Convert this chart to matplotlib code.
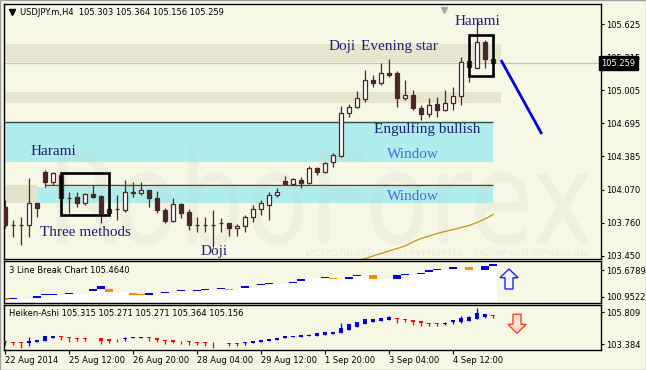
import matplotlib
matplotlib.use('Agg')
import matplotlib.pyplot as plt
from matplotlib.patches import Rectangle, Polygon, PathPatch
from matplotlib.textpath import TextPath
from matplotlib.font_manager import FontProperties
from matplotlib.transforms import Affine2D, blended_transform_factory
import numpy as np

nan = np.nan

# --- USDJPY H4 candles (bar 0 = 22 Aug 2014) ---
opens = [103.907, 103.740, 103.738, 103.738, 103.945, 104.236, 104.142, 104.208, 103.992, 104.001,
         103.945, 104.030, 104.011, 103.851, 103.889, 103.879, 104.048, 104.039, 104.067, 103.992,
         103.879, 103.776, 103.936, 103.860, 103.738, 103.738, 103.738, 103.757, 103.757, 103.710,
         103.729, 103.814, 103.889, 103.926, 104.020, 104.152, 104.124, 104.161, 104.133, 104.274,
         104.236, 104.330, 104.387, 104.791, 104.847, 104.923, 105.101, 105.073, 105.167, 105.167,
         104.932, 104.960, 104.838, 104.782, 104.876, 104.819, 104.885, 104.951, 105.280, 105.214,
         105.459, 105.303]
highs = [103.973, 103.785, 103.814, 104.180, 103.950, 104.255, 104.236, 104.227, 104.048, 104.048,
         104.039, 104.114, 104.020, 103.895, 104.020, 104.161, 104.142, 104.142, 104.070, 104.057,
         103.898, 103.992, 103.945, 103.889, 103.814, 103.814, 103.879, 103.804, 103.760, 103.748,
         103.832, 103.926, 103.973, 104.048, 104.086, 104.199, 104.180, 104.190, 104.293, 104.280,
         104.330, 104.415, 104.857, 104.876, 104.998, 105.195, 105.148, 105.261, 105.299, 105.186,
         105.101, 105.007, 104.866, 104.932, 104.942, 105.007, 105.036, 105.318, 105.308, 105.684,
         105.477, 105.320]
lows = [103.710, 103.626, 103.551, 103.626, 103.814, 104.095, 104.114, 103.983, 103.851, 103.907,
        103.926, 103.995, 103.757, 103.845, 103.785, 103.860, 104.001, 104.020, 103.907, 103.851,
        103.757, 103.767, 103.804, 103.691, 103.673, 103.673, 103.532, 103.673, 103.635, 103.635,
        103.673, 103.767, 103.832, 103.785, 104.001, 104.120, 104.114, 104.086, 104.128, 104.208,
        104.230, 104.283, 104.377, 104.753, 104.838, 104.895, 105.036, 105.054, 105.130, 104.847,
        104.913, 104.819, 104.725, 104.753, 104.753, 104.810, 104.819, 104.866, 105.083, 105.210,
        105.214, 105.235]
closes = [103.738, 103.738, 103.740, 103.945, 103.898, 104.142, 104.227, 103.992, 103.995, 103.945,
          104.030, 104.001, 103.851, 103.889, 103.885, 104.048, 104.043, 104.067, 103.992, 103.879,
          103.776, 103.936, 103.851, 103.738, 103.735, 103.742, 103.736, 103.755, 103.710, 103.729,
          103.814, 103.889, 103.945, 104.020, 104.048, 104.124, 104.171, 104.133, 104.274, 104.236,
          104.321, 104.396, 104.791, 104.847, 104.932, 105.101, 105.073, 105.167, 105.148, 104.932,
          104.960, 104.838, 104.782, 104.866, 104.819, 104.885, 104.951, 105.271, 105.224, 105.459,
          105.299, 105.259]

# moving average (only the visible part, bars 44..61)
ma_bars = list(range(44, 62))
ma_vals = [103.400, 103.424, 103.447, 103.471, 103.494, 103.518, 103.541, 103.579, 103.612, 103.635,
           103.659, 103.678, 103.696, 103.715, 103.734, 103.762, 103.795, 103.837]

# support / resistance zones (price levels)
tan_zones = [(105.274, 105.440), (104.888, 104.989)]
window_zones = [(104.334, 104.704), (103.948, 104.098)]
level_lines = [104.704, 104.110]
last_price = 105.259

# 3 line break bricks
lb_bar = [0, 1, 4, 5, 6, 8, 11, 12, 13, 16, 17, 18, 20, 22, 24, 25, 27, 28, 30, 32, 33, 36, 37, 38,
          40, 41, 43, 44, 46, 49, 50, 52, 53, 54, 56, 58, 60, 61]
lb_lo = [100.369, 100.599, 100.776, 101.201, 101.307, 101.484, 101.909, 102.369, 101.785, 101.307,
         101.201, 101.307, 101.661, 101.909, 102.015, 102.192, 102.369, 102.086, 102.546, 102.971,
         103.148, 103.431, 103.679, 104.210, 104.263, 104.086, 104.086, 104.564, 104.139, 104.139,
         104.847, 105.024, 105.272, 105.732, 105.909, 105.732, 105.732, 106.440]
lb_hi = [100.725, 100.776, 101.077, 101.378, 101.484, 101.661, 102.369, 102.847, 102.369, 101.608,
         101.378, 101.608, 101.785, 102.086, 102.139, 102.369, 102.546, 102.369, 102.847, 103.148,
         103.325, 103.608, 104.086, 104.316, 104.440, 104.263, 104.440, 104.741, 104.741, 104.741,
         104.971, 105.201, 105.732, 105.856, 106.157, 106.157, 106.387, 106.688]
lb_up = [0, 1, 1, 1, 1, 1, 1, 1, 0, 0, 0, 1, 1, 1, 1, 1, 1, 0, 1, 1, 1, 1, 1, 1, 1, 0, 1, 1, 0, 1,
         1, 1, 1, 1, 1, 0, 1, 1]

# Heiken-Ashi
ha_o = [103.634, 103.535, 103.535, 103.510, 103.580, 103.634, 103.880, 104.000, 103.960, 103.840,
        103.840, 103.830, 103.840, 103.790, 103.720, 103.820, 103.840, 103.880, 103.900, 103.840,
        103.710, 103.710, 103.640, 103.634, 103.535, 103.535, 103.500, nan, 103.460, 103.460,
        103.500, 103.510, 103.580, 103.634, 103.710, 103.840, 103.940, 103.960, 104.040, 104.040,
        104.090, 104.160, 104.220, 104.470, 104.720, 104.900, 105.100, 105.150, 105.220, 105.400,
        105.300, 105.200, 105.150, 105.020, 105.020, 104.950, 105.050, 105.100, 105.150, 105.300,
        105.480, 105.600]
ha_c = [103.535, 103.460, 103.460, 103.634, 103.710, 104.040, 104.040, 103.970, 103.840, 103.790,
        103.790, 103.840, 103.630, 103.630, 103.700, 103.850, 103.960, 103.960, 103.870, 103.710,
        103.630, 103.580, 103.610, 103.535, 103.460, 103.460, 103.480, nan, 103.440, 103.384,
        103.530, 103.634, 103.710, 103.790, 103.880, 104.040, 104.040, 104.090, 104.120, 104.220,
        104.290, 104.290, 104.640, 104.920, 105.100, 105.300, 105.300, 105.400, 105.480, 105.300,
        105.200, 105.050, 104.970, 104.920, 104.920, 104.970, 105.220, 105.400, 105.480, 105.730,
        105.660, 105.500]
ha_h = [103.634, 103.540, 103.540, 103.960, 103.720, 104.050, 104.050, 104.040, 103.970, 103.850,
        103.850, 103.850, 103.850, 103.800, 103.790, 103.960, 103.970, 103.970, 103.910, 103.850,
        103.720, 103.720, 103.640, 103.640, 103.540, 103.540, 103.540, nan, 103.460, 103.460,
        103.535, 103.640, 103.720, 103.800, 103.890, 104.050, 104.050, 104.100, 104.160, 104.230,
        104.300, 104.300, 104.970, 104.930, 105.110, 105.310, 105.310, 105.410, 105.490, 105.410,
        105.310, 105.210, 105.160, 105.030, 105.030, 105.100, 105.230, 105.550, 105.490, 106.110,
        105.670, 105.610]
ha_l = [103.331, 103.330, 103.080, 103.280, 103.570, 103.620, 103.870, 103.710, 103.580, 103.630,
        103.630, 103.830, 103.380, 103.460, 103.540, 103.630, 103.830, 103.870, 103.630, 103.540,
        103.380, 103.460, 103.380, 103.330, 103.330, 103.280, 103.080, nan, 103.280, 103.280,
        103.330, 103.500, 103.570, 103.620, 103.700, 103.830, 103.930, 103.950, 104.030, 104.030,
        104.080, 104.150, 104.210, 104.460, 104.710, 104.890, 105.090, 105.140, 105.210, 104.970,
        105.050, 104.850, 104.790, 104.790, 104.790, 104.850, 104.900, 104.970, 105.140, 105.290,
        105.350, 105.350]

main_ticks = [105.625, 105.315, 105.005, 104.695, 104.385, 104.070, 103.760, 103.450]
lb_ticks = [105.6789, 100.9522]
ha_ticks = [105.809, 103.384]
date_pos = [0, 8, 16, 24, 32, 40, 48, 56]
date_labels = ['22 Aug 2014', '25 Aug 12:00', '26 Aug 20:00', '28 Aug 04:00',
               '29 Aug 12:00', '1 Sep 20:00', '3 Sep 04:00', '4 Sep 12:00']

BG = '#f7f7e6'
TAN = '#e8e5cf'
CYAN = '#b0eeee'
DARKLINE = '#2f4f4f'
CANDLE = '#4d2626'
NAVY = '#1e1e7a'
WINDOW = '#4a68e6'
TICKFONT = dict(family='DejaVu Sans', size=6.0)

W, H = 646, 370
fig = plt.figure(figsize=(6.46, 3.70), dpi=100)
fig.patch.set_facecolor(BG)


def px_axes(left, top, right, bottom):
    a = fig.add_axes([left / W, 1 - bottom / H, (right - left) / W, (bottom - top) / H])
    a.set_facecolor(BG)
    a.set_xlim(-0.125, 74.5)
    a.yaxis.tick_right()
    a.tick_params(axis='y', direction='out', length=2.5, width=0.8, pad=1.0)
    a.set_xticks([])
    for sp in a.spines.values():
        sp.set_linewidth(1.0)
    return a


def fit_text(a, s, box, color, alpha, family='DejaVu Sans'):
    # stretch a text path into a box given in axes fraction (x0, y0, x1, y1)
    x0, y0, x1, y1 = box
    tp = TextPath((0, 0), s, size=1, prop=FontProperties(family=family))
    ext = tp.get_extents()
    tr = (Affine2D().translate(-ext.x0, -ext.y0)
          .scale((x1 - x0) / ext.width, (y1 - y0) / ext.height)
          .translate(x0, y0) + a.transAxes)
    a.add_patch(PathPatch(tp, transform=tr, fc=color, ec='none', alpha=alpha, zorder=1.5))


ax = px_axes(4, 4, 601, 259)
ax2 = px_axes(4, 261, 601, 302.7)
ax3 = px_axes(4, 304.5, 601, 349.5)

# ---------------- main price panel ----------------
ax.set_ylim(103.419, 105.816)
xl = ax.get_xlim()[0]
for lo, hi in tan_zones:
    ax.add_patch(Rectangle((xl, lo), 62.0 - xl, hi - lo, fc=TAN, ec='none', zorder=0.5))
ax.add_patch(Rectangle((xl, window_zones[0][0]), 61.0 - xl, window_zones[0][1] - window_zones[0][0],
                       fc=CYAN, ec='none', zorder=0.6))
ax.add_patch(Rectangle((4.0, window_zones[1][0]), 57.0, window_zones[1][1] - window_zones[1][0],
                       fc=CYAN, ec='none', zorder=0.6))
ax.add_patch(Rectangle((xl, window_zones[1][0]), 4.0 - xl, level_lines[1] - window_zones[1][0],
                       fc='#e4e2c8', ec='none', zorder=0.6))
ax.hlines(level_lines[0], xl, 61.0, color=DARKLINE, lw=1.0, zorder=1.6)
ax.hlines(level_lines[1], 5.0, 61.0, color=DARKLINE, lw=1.0, zorder=1.6)
ax.axhline(last_price, color='#c0c0c0', lw=0.9, zorder=1.7)

# watermark
fit_text(ax, 'RoboForex', (0.089, 0.055, 0.982, 0.44), '#c0c0b0', 0.13)
fit_text(ax, 'ИСПОЛЬЗУЙ ИНСТРУМЕНТЫ – ПОЛУЧАЙ ПРИБЫЛЬ', (0.507, 0.012, 0.976, 0.043), '#c0c0b0', 0.22)

x = np.arange(len(opens))
o = np.array(opens); c = np.array(closes)
up = c >= o
ax.vlines(x, lows, highs, color=CANDLE, lw=0.9, zorder=3)
ax.bar(x, np.abs(c - o), bottom=np.minimum(o, c), width=0.5,
       color=np.where(up, 'white', CANDLE), edgecolor=CANDLE, linewidth=0.9, zorder=4)

ax.plot(ma_bars, ma_vals, color='#c8901e', lw=0.9, zorder=2)

# pattern boxes
ax.add_patch(Rectangle((6.94, 103.832), 6.0, 104.227 - 103.832, fill=False, ec='black', lw=1.9, zorder=5))
ax.add_patch(Rectangle((58.0, 105.139), 3.0, 105.524 - 105.139, fill=False, ec='black', lw=1.9, zorder=5))

# forecast arrow
ax.plot([62.0, 67.1], [105.289, 104.594], color='#0000dd', lw=2.0, zorder=5, solid_capstyle='butt')

serif = dict(family='Liberation Serif', size=11, zorder=6, va='baseline', ha='left')
ax.text(40.4, 105.379, 'Doji', color=NAVY, **serif)
ax.text(44.5, 105.379, 'Evening star', color=NAVY, **serif)
ax.text(56.25, 105.618, 'Harami', color=NAVY, **serif)
ax.text(46.1, 104.599, 'Engulfing bullish', color=NAVY, **serif)
ax.text(47.75, 104.368, 'Window', color=WINDOW, **serif)
ax.text(47.75, 103.969, 'Window', color=WINDOW, **serif)
ax.text(3.25, 104.397, 'Harami', color=NAVY, **serif)
ax.text(4.4, 103.631, 'Three methods', color=NAVY, **serif)
ax.text(24.4, 103.457, 'Doji', color=NAVY, **serif)

ax.set_yticks(main_ticks)
ax.set_yticklabels([f'{t:.3f}' for t in main_ticks], **TICKFONT)
tr_r = blended_transform_factory(ax.transAxes, ax.transData)
ax.text(1.0, last_price, '105.259', transform=tr_r, ha='left', va='center', color='white',
        fontsize=6.0, family='DejaVu Sans', zorder=10, clip_on=False,
        bbox=dict(boxstyle='square,pad=0.3', fc='black', ec='black'))
ax.plot(0.0126, 0.967, marker='v', ms=4.5, color='black', transform=ax.transAxes, zorder=7)
ax.text(0.0268, 0.966, 'USDJPY.m,H4  105.303 105.364 105.156 105.259', transform=ax.transAxes,
        ha='left', va='center', fontsize=6.0, family='DejaVu Sans', zorder=7)
tr_top = blended_transform_factory(ax.transData, ax.transAxes)
ax.plot(54.9, 0.975, marker='v', ms=4.5, color='#a8a8a8', transform=tr_top, zorder=7, clip_on=False)

# ---------------- 3 line break panel ----------------
ax2.set_ylim(99.891, 107.272)
levels = np.full(62, np.nan)
last = np.nan
for i in range(62):
    if i in lb_bar:
        last = lb_lo[lb_bar.index(i)]
    levels[i] = last
edges = np.arange(-0.5, 62.5, 1.0)
ax2.fill_between(edges, 99.891, np.append(levels, levels[-1]), step='post', color='white', lw=0, zorder=1)
ax2.bar(lb_bar, np.array(lb_hi) - np.array(lb_lo), bottom=lb_lo, width=1.0,
        color=['#0000ee' if u else '#ff8c00' for u in lb_up], lw=0, zorder=2)
ax2.add_patch(Polygon([(63.0, 105.856), (64.13, 104.316), (63.5, 104.316), (63.5, 102.316),
                       (62.5, 102.316), (62.5, 104.316), (61.87, 104.316)],
                      closed=True, fc='#f4f6ff', ec='#2020ff', lw=1.0, zorder=3))
ax2.set_yticks(lb_ticks)
ax2.set_yticklabels([f'{t:.4f}' for t in lb_ticks], **TICKFONT)
ax2.text(0.009, 0.78, '3 Line Break Chart 105.4640', transform=ax2.transAxes, ha='left', va='center',
         fontsize=6.0, family='DejaVu Sans')

# ---------------- Heiken-Ashi panel ----------------
ax3.set_ylim(102.990, 106.399)
hao = np.array(ha_o); hac = np.array(ha_c)
ok = ~np.isnan(hao)
hcol = np.where(hac >= hao, '#0000dd', '#ff0000')
ax3.vlines(x[ok], np.array(ha_l)[ok], np.array(ha_h)[ok], colors=hcol[ok], lw=0.9, zorder=2)
ax3.bar(x[ok], np.abs(hac - hao)[ok], bottom=np.minimum(hao, hac)[ok], width=0.45,
        color=hcol[ok], lw=0, zorder=3)
ax3.add_patch(Polygon([(63.5, 105.657), (64.5, 105.657), (64.5, 104.899), (65.14, 104.899),
                       (64.0, 104.217), (62.86, 104.899), (63.5, 104.899)],
                      closed=True, fc='#fde2da', ec='#ff4020', lw=1.0, zorder=3))
ax3.set_yticks(ha_ticks)
ax3.set_yticklabels([f'{t:.3f}' for t in ha_ticks], **TICKFONT)
ax3.text(0.009, 0.79, 'Heiken-Ashi 105.315 105.271 105.271 105.364 105.156', transform=ax3.transAxes,
         ha='left', va='center', fontsize=6.0, family='DejaVu Sans')
ax3.set_xticks(date_pos)
ax3.set_xticklabels(date_labels, ha='left', **TICKFONT)
ax3.tick_params(axis='x', direction='out', length=3, width=0.8, pad=2)

fig.add_artist(Rectangle((0, 0), 1, 1, transform=fig.transFigure, fill=False, ec='#a0a0a0', lw=1.0))

fig.savefig('out.png', dpi=100, facecolor=BG)
